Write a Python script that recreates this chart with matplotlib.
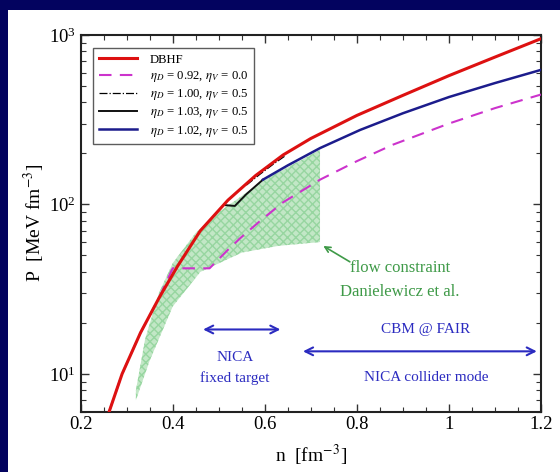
import numpy as np
import matplotlib.pyplot as plt
from matplotlib.patches import Rectangle
from matplotlib.ticker import MultipleLocator, LogLocator, NullFormatter

plt.rcParams['font.family'] = ['Liberation Serif', 'DejaVu Serif']
plt.rcParams['mathtext.fontset'] = 'stix'

# DBHF pressure
n_dbhf = [0.262, 0.29, 0.33, 0.37, 0.41, 0.46, 0.52, 0.58, 0.64, 0.70, 0.80, 0.90, 1.00, 1.10, 1.20]
p_dbhf = [6.0, 10.0, 17.5, 28.0, 43.0, 70.0, 106.0, 148.0, 196.0, 245.0, 335.0, 440.0, 575.0, 740.0, 950.0]

# eta_D = 0.92, eta_V = 0.0 (flat part = mixed phase)
n_092 = [0.262, 0.29, 0.33, 0.37, 0.40, 0.48, 0.52, 0.546, 0.59, 0.64, 0.72, 0.80, 0.878, 1.00, 1.10, 1.20]
p_092 = [6.0, 10.0, 17.5, 28.0, 42.0, 42.0, 54.0, 63.0, 80.0, 103.0, 140.0, 180.0, 225.0, 300.0, 370.0, 445.0]

# eta_D = 1.00, eta_V = 0.5
n_100 = [0.56, 0.59, 0.62, 0.645]
p_100 = [130.0, 151.0, 174.0, 194.0]

# eta_D = 1.03, eta_V = 0.5
n_103 = [0.515, 0.535, 0.56, 0.596]
p_103 = [99.0, 98.0, 115.0, 140.0]

# eta_D = 1.02, eta_V = 0.5
n_102 = [0.596, 0.65, 0.72, 0.807, 0.90, 1.00, 1.10, 1.20]
p_102 = [140.0, 170.0, 215.0, 275.0, 345.0, 430.0, 520.0, 622.0]

# flow constraint (Danielewicz et al.)
flow_n_up = [0.32, 0.34, 0.37, 0.40, 0.45, 0.50, 0.60, 0.72]
flow_p_up = [8.0, 16.0, 30.0, 45.0, 68.0, 90.0, 140.0, 210.0]
flow_n_lo = [0.32, 0.35, 0.40, 0.46, 0.55, 0.63, 0.72]
flow_p_lo = [7.0, 12.0, 25.0, 40.0, 52.0, 57.0, 60.0]

navy = '#03035f'
fig = plt.figure(figsize=(5.6, 4.72), dpi=100, facecolor=navy)
fig.patches.append(Rectangle((8 / 560, 0), 1, 1 - 10 / 472, transform=fig.transFigure,
                             facecolor='white', edgecolor='none', zorder=-10))

ax = fig.add_axes([0.144, 0.128, 0.822, 0.798])
ax.set_facecolor('none')

poly_n = flow_n_up + [flow_n_lo[-1]] + flow_n_lo[::-1]
poly_p = flow_p_up + [flow_p_lo[-1]] + flow_p_lo[::-1]
ax.fill(poly_n, poly_p, facecolor='#c2e7c6', edgecolor='#97d6a0', hatch='xxxx',
        linewidth=0, zorder=1)

ax.plot(n_100, p_100, color='k', lw=0.9, ls='-.', zorder=2,
        label=r'$\eta_D$ = 1.00, $\eta_V$ = 0.5')
ax.plot(n_dbhf, p_dbhf, color='#dd1111', lw=2.2, zorder=4, label='DBHF')
ax.plot(n_092, p_092, color='#cc33cc', lw=1.5, ls=(0, (6, 4)), zorder=3,
        label=r'$\eta_D$ = 0.92, $\eta_V$ = 0.0')
ax.plot(n_103, p_103, color='#111111', lw=1.4, zorder=3,
        label=r'$\eta_D$ = 1.03, $\eta_V$ = 0.5')
ax.plot(n_102, p_102, color='#1c1c8c', lw=1.8, zorder=3,
        label=r'$\eta_D$ = 1.02, $\eta_V$ = 0.5')

ax.set_yscale('log')
ax.set_xlim(0.2, 1.2)
ax.set_ylim(6, 1000)

ax.xaxis.set_major_locator(MultipleLocator(0.2))
ax.xaxis.set_minor_locator(MultipleLocator(0.05))
ax.xaxis.set_major_formatter(plt.FuncFormatter(lambda v, p: '1' if abs(v - 1) < 1e-6 else f'{v:.1f}'))
ax.yaxis.set_major_locator(LogLocator(base=10))
ax.yaxis.set_minor_locator(LogLocator(base=10, subs=np.arange(2, 10)))
ax.yaxis.set_minor_formatter(NullFormatter())
ax.tick_params(which='both', direction='in', top=True, right=True, labelsize=13.5, color='#333333')
ax.tick_params(which='major', length=6, width=1)
ax.tick_params(which='minor', length=3.5, width=0.8)
for s in ax.spines.values():
    s.set_linewidth(1.5)
    s.set_color('#222222')

ax.set_xlabel(r'n  [fm$^{-3}$]', fontsize=14, labelpad=7)
ax.set_ylabel(r'P  [MeV fm$^{-3}$]', fontsize=14, labelpad=1)

handles, labels = ax.get_legend_handles_labels()
order = [1, 2, 0, 3, 4]
leg = ax.legend([handles[i] for i in order], [labels[i] for i in order],
                loc='upper left', bbox_to_anchor=(0.027, 0.965), fontsize=9.2,
                frameon=True, fancybox=False, edgecolor='#333333',
                handlelength=3.0, handletextpad=1.0, borderpad=0.45,
                labelspacing=0.25, borderaxespad=0)
leg.get_frame().set_linewidth(1.0)

green = '#3f9a48'
ax.text(0.894, 42.4, 'flow constraint', color=green, fontsize=12, ha='center', va='center')
ax.text(0.894, 30.6, 'Danielewicz et al.', color=green, fontsize=12, ha='center', va='center')
ax.annotate('', xy=(0.722, 58), xytext=(0.79, 45),
            arrowprops=dict(arrowstyle='->', color=green, lw=1.2))

blue = '#2b2bc0'
ax.annotate('', xy=(0.46, 18.3), xytext=(0.64, 18.3),
            arrowprops=dict(arrowstyle='<->', color=blue, lw=1.5, mutation_scale=14))
ax.text(0.535, 12.5, 'NICA', color=blue, fontsize=11, ha='center', va='center')
ax.text(0.535, 9.5, 'fixed target', color=blue, fontsize=11, ha='center', va='center')
ax.annotate('', xy=(0.677, 13.6), xytext=(1.197, 13.6),
            arrowprops=dict(arrowstyle='<->', color=blue, lw=1.5, mutation_scale=14))
ax.text(0.95, 18.3, 'CBM @ FAIR', color=blue, fontsize=11, ha='center', va='center')
ax.text(0.95, 9.5, 'NICA collider mode', color=blue, fontsize=11, ha='center', va='center')

fig.savefig('out.png', dpi=100, facecolor=navy)
